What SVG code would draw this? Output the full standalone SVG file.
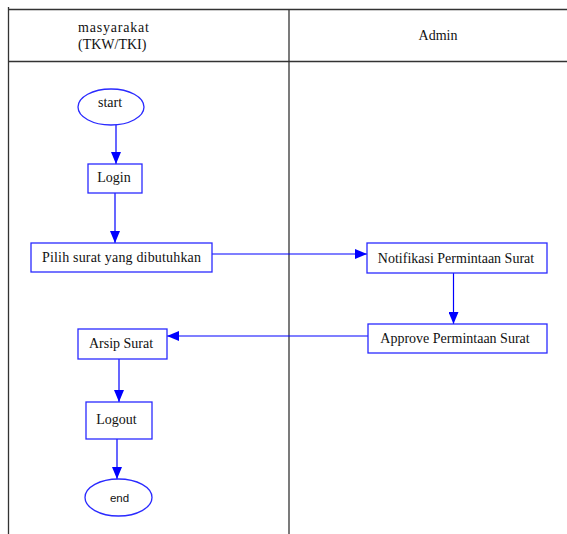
<svg xmlns="http://www.w3.org/2000/svg" width="567" height="534" viewBox="0 0 567 534">
  <style>
    .lane { stroke: #333; stroke-width: 1.3; fill: none; }
    .box { fill: #fff; stroke: #2a2aff; stroke-width: 1.3; }
    .edge { stroke: #0000ff; stroke-width: 1.2; fill: none; }
    .t { font-family: "Liberation Serif", "Times New Roman", serif; font-size: 14px; fill: #111; }
    .s { font-family: "Liberation Sans", Arial, sans-serif; font-size: 11.5px; fill: #111; }
  </style>
  <defs>
    <marker id="arrow" markerUnits="userSpaceOnUse" markerWidth="12" markerHeight="10" refX="12" refY="5" orient="auto">
      <path d="M0,0 L12,5 L0,10 Z" fill="#0000ff"/>
    </marker>
  </defs>
  <rect width="567" height="534" fill="#fff"/>

  <!-- swimlane frame -->
  <g id="lanes">
    <line class="lane" x1="8.5" y1="7" x2="8.5" y2="534"/>
    <line class="lane" x1="8" y1="9.5" x2="567" y2="9.5"/>
    <line class="lane" x1="8" y1="61.5" x2="567" y2="61.5"/>
    <line class="lane" x1="289" y1="9" x2="289" y2="534"/>
    <text class="t" x="78" y="32" textLength="71">masyarakat</text>
    <text class="t" x="78" y="49">(TKW/TKI)</text>
    <text class="t" x="438" y="40" text-anchor="middle">Admin</text>
  </g>

  <!-- connectors -->
  <g id="edges">
    <line class="edge" x1="116" y1="125" x2="116" y2="164" marker-end="url(#arrow)"/>
    <line class="edge" x1="115" y1="193" x2="115" y2="243" marker-end="url(#arrow)"/>
    <line class="edge" x1="212" y1="254" x2="367" y2="254" marker-end="url(#arrow)"/>
    <line class="edge" x1="453.5" y1="273" x2="453.5" y2="324" marker-end="url(#arrow)"/>
    <line class="edge" x1="368" y1="336" x2="167" y2="336" marker-end="url(#arrow)"/>
    <line class="edge" x1="119" y1="359" x2="119" y2="402" marker-end="url(#arrow)"/>
    <line class="edge" x1="117" y1="439" x2="117" y2="479" marker-end="url(#arrow)"/>
  </g>

  <g id="start">
    <ellipse class="box" cx="111" cy="107" rx="33" ry="18"/>
    <text class="t" x="110" y="107" text-anchor="middle">start</text>
  </g>
  <g id="login">
    <rect class="box" x="88" y="164" width="54" height="29"/>
    <text class="t" x="114" y="182" text-anchor="middle">Login</text>
  </g>
  <g id="pilih-surat">
    <rect class="box" x="31" y="243" width="181" height="29"/>
    <text class="t" x="121.5" y="262" text-anchor="middle" textLength="159">Pilih surat yang dibutuhkan</text>
  </g>
  <g id="notifikasi">
    <rect class="box" x="367" y="243" width="180" height="30"/>
    <text class="t" x="456" y="263" text-anchor="middle">Notifikasi Permintaan Surat</text>
  </g>
  <g id="approve">
    <rect class="box" x="368" y="324" width="179" height="29"/>
    <text class="t" x="455" y="343" text-anchor="middle">Approve Permintaan Surat</text>
  </g>
  <g id="arsip">
    <rect class="box" x="78" y="329" width="89" height="30"/>
    <text class="t" x="121" y="348" text-anchor="middle">Arsip Surat</text>
  </g>
  <g id="logout">
    <rect class="box" x="86" y="402" width="66" height="37"/>
    <text class="t" x="116.5" y="424" text-anchor="middle">Logout</text>
  </g>
  <g id="end">
    <ellipse class="box" cx="118.5" cy="497.5" rx="33.5" ry="18.5"/>
    <text class="s" x="119.5" y="501.5" text-anchor="middle">end</text>
  </g>
</svg>
